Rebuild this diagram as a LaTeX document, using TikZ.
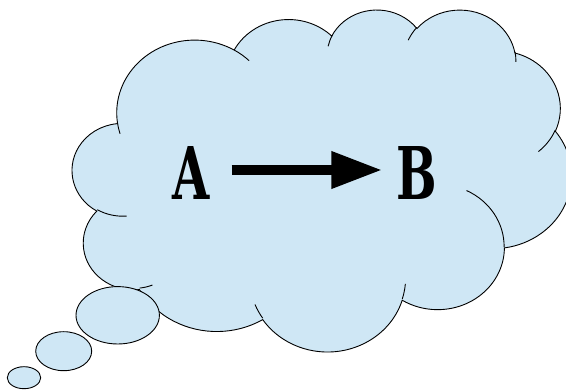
\documentclass[tikz,border=0pt]{standalone}
\usepackage{fontspec}
\setmainfont{DejaVu Serif}
\usepackage{graphicx}
\usetikzlibrary{arrows.meta}
\definecolor{cloudblue}{HTML}{CFE7F5}
% convert an OOXML-style arc (visual angles) to TikZ parametric start/delta
\newcommand\cldcalc[5]{%
  \pgfmathsetmacro\cldtA{atan2((#2)*sin(#4),(#3)*cos(#4))}%
  \pgfmathsetmacro\cldtB{atan2((#2)*sin((#4)+(#5)),(#3)*cos((#4)+(#5)))}%
  \pgfmathsetmacro\cldtD{\cldtB-\cldtA}%
  \pgfmathsetmacro\cldtD{\cldtD-360*round((\cldtD-(#5))/360)}%
  \expandafter\xdef\csname cld#1s\endcsname{\cldtA}%
  \expandafter\xdef\csname cld#1d\endcsname{\cldtD}%
}
\begin{document}
\begin{tikzpicture}[scale=0.0351459804, yscale=-1,
  cloudbody/.style={fill=cloudblue, draw=black, line width=0.9pt},
  cloudline/.style={draw=black, line width=0.9pt},
  letter/.style={inner sep=0pt, text height=60pt, text depth=0pt,
    font=\fontsize{72.7}{80}\selectfont\bfseries},
  bigarrow/.style={line width=10pt, -{Triangle[length=51pt, width=35pt]}}]
\cldcalc{ma}{6.753}{9.190}{-190.48748}{123.78053}
\cldcalc{mb}{5.333}{7.267}{-144.10238}{89.94523}
\cldcalc{mc}{4.365}{5.945}{-145.80792}{99.72302}
\cldcalc{md}{4.857}{6.595}{-130.98607}{117.24173}
\cldcalc{me}{5.333}{7.273}{-78.70888}{109.02692}
\cldcalc{mf}{6.775}{9.220}{-46.26725}{130.26900}
\cldcalc{mg}{5.785}{7.867}{0.62502}{114.03333}
\cldcalc{mh}{6.752}{9.215}{22.45160}{115.17255}
\cldcalc{mi}{7.720}{10.543}{66.24263}{75.71102}
\cldcalc{mj}{4.360}{5.918}{-274.94208}{146.73557}
\cldcalc{mk}{4.345}{5.945}{-246.82850}{152.51885}
\cldcalc{ca}{4.345}{5.945}{86.742}{26.4295}
\cldcalc{cb}{4.360}{5.918}{73.61047}{11.44747}
\cldcalc{cc}{6.752}{9.215}{137.62415}{14.0811}
\cldcalc{cd}{6.752}{9.215}{6.45327}{15.99835}
\cldcalc{ce}{5.785}{7.867}{-70.29235}{70.91737}
\cldcalc{cf}{5.333}{7.273}{30.31803}{27.7515}
\cldcalc{cg}{4.857}{6.595}{-13.74433}{14.8589}
\cldcalc{ch}{4.857}{6.595}{-149.18145}{18.19537}
\cldcalc{ci}{4.365}{5.945}{-163.49427}{17.68635}
\cldcalc{cj}{6.753}{9.190}{-66.70695}{12.31935}
\cldcalc{ck}{6.753}{9.190}{157.65435}{11.85817}
\clip (0,0) rectangle (566,391);
\begin{scope}[shift={(72.4,8.9)}, xscale=11.55, yscale=7.914]
\filldraw[cloudbody] (3.900,14.370)
  arc[x radius=6.753, y radius=9.190, start angle=\cldmas, delta angle=\cldmad]
  arc[x radius=5.333, y radius=7.267, start angle=\cldmbs, delta angle=\cldmbd]
  arc[x radius=4.365, y radius=5.945, start angle=\cldmcs, delta angle=\cldmcd]
  arc[x radius=4.857, y radius=6.595, start angle=\cldmds, delta angle=\cldmdd]
  arc[x radius=5.333, y radius=7.273, start angle=\cldmes, delta angle=\cldmed]
  arc[x radius=6.775, y radius=9.220, start angle=\cldmfs, delta angle=\cldmfd]
  arc[x radius=5.785, y radius=7.867, start angle=\cldmgs, delta angle=\cldmgd]
  arc[x radius=6.752, y radius=9.215, start angle=\cldmhs, delta angle=\cldmhd]
  arc[x radius=7.720, y radius=10.543, start angle=\cldmis, delta angle=\cldmid]
  arc[x radius=4.360, y radius=5.918, start angle=\cldmjs, delta angle=\cldmjd]
  arc[x radius=4.345, y radius=5.945, start angle=\cldmks, delta angle=\cldmkd]
  -- cycle;
\draw[cloudline]
  (4.693,26.177) arc[x radius=4.345, y radius=5.945, start angle=\cldcas, delta angle=\cldcad]
  (6.928,34.899) arc[x radius=4.360, y radius=5.918, start angle=\cldcbs, delta angle=\cldcbd]
  (16.478,39.090) arc[x radius=6.752, y radius=9.215, start angle=\cldccs, delta angle=\cldccd]
  (28.827,34.751) arc[x radius=6.752, y radius=9.215, start angle=\cldcds, delta angle=\cldcdd]
  (34.129,22.954) arc[x radius=5.785, y radius=7.867, start angle=\cldces, delta angle=\cldced]
  (41.798,15.354) arc[x radius=5.333, y radius=7.273, start angle=\cldcfs, delta angle=\cldcfd]
  (38.324,5.426) arc[x radius=4.857, y radius=6.595, start angle=\cldcgs, delta angle=\cldcgd]
  (29.078,3.952) arc[x radius=4.857, y radius=6.595, start angle=\cldchs, delta angle=\cldchd]
  (22.141,4.720) arc[x radius=4.365, y radius=5.945, start angle=\cldcis, delta angle=\cldcid]
  (14.000,5.192) arc[x radius=6.753, y radius=9.190, start angle=\cldcjs, delta angle=\cldcjd]
  (4.127,15.789) arc[x radius=6.753, y radius=9.190, start angle=\cldcks, delta angle=\cldckd];
\end{scope}
% thought bubbles
\filldraw[cloudbody] (117.7,315.3) ellipse [x radius=41.7, y radius=28.7];
\filldraw[cloudbody] (63.7,351.2) ellipse [x radius=28, y radius=19.5];
\filldraw[cloudbody] (24,377.7) ellipse [x radius=16.7, y radius=11];
% letters and arrow
\node[letter, anchor=base] (A) at (191.3,200) {\scalebox{0.66}[1]{A}};
\node[letter, anchor=base] (B) at (417.2,200) {\scalebox{0.66}[1]{B}};
\draw[bigarrow, shorten <=40.4pt, shorten >=34.9pt] (A.center) -- (B.center);
\end{tikzpicture}
\end{document}
